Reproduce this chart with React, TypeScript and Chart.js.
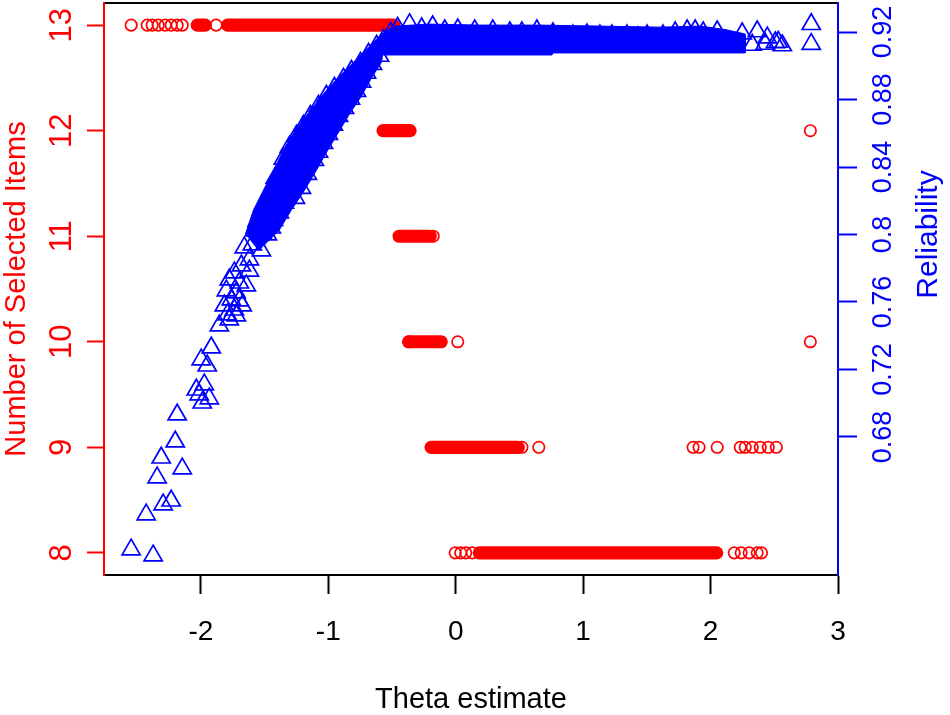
import { useEffect, useRef } from "react";
import { Chart, registerables } from "chart.js";

// Register Chart.js components
Chart.register(...registerables);

const FONT = "'Liberation Sans', Arial, Helvetica, sans-serif";
const RED = "#ff0000";
const BLUE = "#0000ff";

Chart.defaults.font.family = FONT;

// axis limits (data range widened by 4% each side, as R does)
const thetaRange = [-2.76, 3.0];
const itemsRange = [7.79, 13.21];
const relRange = [0.5982, 0.9372];

const thetaTicks = [-2, -1, 0, 1, 2, 3];
const itemTicks = [8, 9, 10, 11, 12, 13];
const relTicks = [0.68, 0.72, 0.76, 0.8, 0.84, 0.88, 0.92];
const relTickLabels = ["0.68", "0.72", "0.76", "0.8", "0.84", "0.88", "0.92"];

// Number of selected items: isolated circles (theta values per item count)
const items13 = [-2.547, -2.421, -2.382, -2.335, -2.28, -2.233, -2.186, -2.146, -1.88];
const items12 = [2.783];
const items11 = [-0.177];
const items10 = [-0.37, 0.016, 2.783];
const items9 = [0.52, 0.652, 1.863, 1.91, 2.052, 2.233, 2.272, 2.327, 2.39, 2.453, 2.516];
const items8 = [-0.004, 0.039, 0.079, 0.13, 2.186, 2.24, 2.303, 2.366, 2.4];

// runs of circles so dense they merge: [items, theta from, theta to]
const itemRuns: [number, number, number][] = [
  [13, -2.028, -1.965],
  [13, -1.79, -0.487],
  [12, -0.57, -0.358],
  [11, -0.444, -0.2],
  [10, -0.366, -0.114],
  [9, -0.193, 0.491],
  [8, 0.185, 2.048],
];

// Reliability triangles: [theta, reliability]
const relTail = [
  [-2.547, 0.6132], [-2.374, 0.6097], [-2.429, 0.634], [-2.296, 0.6399],
  [-2.233, 0.6422], [-2.343, 0.6559], [-2.146, 0.6612], [-2.311, 0.6677],
  [-2.201, 0.6772], [-2.186, 0.6932], [-1.973, 0.711], [-2.036, 0.708],
  [-2.013, 0.7051], [-1.989, 0.7003], [-1.934, 0.7027], [-1.918, 0.7329],
  [-1.997, 0.7258], [-1.95, 0.7222], [-1.855, 0.746],
];

const relRise = [
  [-1.596, 0.794], [-1.525, 0.7904], [-1.659, 0.7922], [-1.619, 0.7851],
  [-1.682, 0.7815], [-1.619, 0.7785], [-1.737, 0.7774], [-1.777, 0.7732],
  [-1.698, 0.7714], [-1.643, 0.7697], [-1.8, 0.7667], [-1.722, 0.7655],
  [-1.761, 0.7614], [-1.698, 0.7608], [-1.816, 0.7578], [-1.737, 0.7554],
  [-1.675, 0.7578], [-1.792, 0.7525], [-1.722, 0.7519], [-1.777, 0.7495],
  [-1.502, 0.8159], [-1.384, 0.8129], [-1.557, 0.8082], [-1.447, 0.804],
  [-1.344, 0.8188], [-1.478, 0.7999], [-1.58, 0.8023], [-1.43, 0.8085],
  [-1.4, 0.8165], [-1.52, 0.801],
];

const relUpperEdge = [
  [-1.471, 0.8228], [-1.416, 0.8335], [-1.353, 0.8448], [-1.305, 0.8519],
  [-1.25, 0.8584], [-1.195, 0.8643], [-1.14, 0.8702], [-1.077, 0.8762],
  [-1.015, 0.8821], [-0.952, 0.8868], [-0.881, 0.8922], [-0.818, 0.8969],
  [-0.747, 0.9016], [-0.684, 0.907], [-0.621, 0.9117], [-0.566, 0.9153],
  [-0.511, 0.9194], [-0.456, 0.9224],
];

const relLowerEdge = [
  [-0.598, 0.9058], [-0.653, 0.901], [-0.7, 0.8957], [-0.739, 0.8904],
  [-0.779, 0.885], [-0.826, 0.8803], [-0.873, 0.8749], [-0.92, 0.8702],
  [-0.96, 0.8649], [-0.999, 0.8595], [-1.038, 0.8542], [-1.077, 0.8489],
  [-1.109, 0.8441], [-1.164, 0.8358], [-1.211, 0.8275], [-1.258, 0.8216],
];

const relPlateau = [
  [-0.362, 0.9245], [-0.267, 0.9221], [-0.181, 0.9233], [-0.086, 0.9209],
  [0.016, 0.9215], [0.149, 0.9209], [0.291, 0.9209], [0.425, 0.9197],
  [0.519, 0.9197], [0.637, 0.9209], [0.763, 0.9191], [0.92, 0.9179],
  [1.03, 0.9185], [1.132, 0.9179], [1.226, 0.9179], [1.344, 0.9179],
  [1.431, 0.9168], [1.502, 0.9179], [1.627, 0.9179], [1.722, 0.9197],
  [1.816, 0.9209], [1.879, 0.9209], [1.942, 0.9197], [2.052, 0.9203],
  [2.13, 0.9138], [2.248, 0.9191], [2.366, 0.9203], [2.445, 0.9167],
  [2.508, 0.9138], [2.563, 0.912], [2.327, 0.9123], [2.429, 0.9129],
  [2.531, 0.9141], [2.193, 0.9123], [2.091, 0.9117], [2.79, 0.9246],
  [2.79, 0.9128],
];

// outline of the solid mass where the triangles overlap completely
const relCore = [
  [-1.65, 0.8003], [-1.587, 0.8145], [-1.508, 0.8264], [-1.429, 0.8382],
  [-1.335, 0.8525], [-1.256, 0.8619], [-1.162, 0.8714], [-1.052, 0.8821],
  [-0.926, 0.8928], [-0.8, 0.9022], [-0.69, 0.9105], [-0.58, 0.9188],
  [-0.48, 0.9235], [-0.204, 0.9247], [0.189, 0.9241], [0.66, 0.9241],
  [1.132, 0.9235], [1.604, 0.9229], [1.918, 0.9235], [2.115, 0.9215],
  [2.272, 0.9188], [2.272, 0.9076], [0.755, 0.9076], [0.755, 0.9064],
  [-0.574, 0.9064], [-0.582, 0.9022], [-0.661, 0.8927], [-0.739, 0.8821],
  [-0.834, 0.8714], [-0.928, 0.8595], [-1.022, 0.8477], [-1.101, 0.837],
  [-1.195, 0.8252], [-1.29, 0.8145], [-1.384, 0.8027], [-1.478, 0.7955],
  [-1.55, 0.7905],
];

const toXY = (pts: number[][]) => pts.map(([x, y]) => ({ x, y }));

const triangles = (pts: number[][]) => ({
  type: "scatter",
  data: toXY(pts),
  yAxisID: "yRel",
  pointStyle: "triangle",
  pointRadius: 10.5,
  pointHoverRadius: 10.5,
  pointBorderWidth: 1.7,
  pointBorderColor: BLUE,
  pointBackgroundColor: "rgba(0,0,0,0)",
  order: 0,
});

const circles = (level: number, thetas: number[]) => ({
  type: "scatter",
  data: thetas.map((x) => ({ x, y: level })),
  yAxisID: "y",
  pointStyle: "circle",
  pointRadius: 5.7,
  pointHoverRadius: 5.7,
  pointBorderWidth: 1.7,
  pointBorderColor: RED,
  pointBackgroundColor: "rgba(0,0,0,0)",
  order: 1,
});

const run = ([level, from, to]: [number, number, number]) => ({
  type: "line",
  data: [
    { x: from, y: level },
    { x: to, y: level },
  ],
  yAxisID: "y",
  borderColor: RED,
  borderWidth: 13.2,
  borderCapStyle: "round",
  pointRadius: 0,
  fill: false,
  order: 1,
});

// "Reliability" reads bottom-to-top like R's mtext on side 4
const reliabilityTitle = {
  id: "reliabilityTitle",
  afterDraw(chart: any) {
    const scale = chart.scales.yRel;
    const ctx = chart.ctx;
    const mid = (relTicks[0] + relTicks[relTicks.length - 1]) / 2;
    ctx.save();
    ctx.translate(scale.right - 21, scale.getPixelForValue(mid));
    ctx.rotate(-Math.PI / 2);
    ctx.fillStyle = BLUE;
    ctx.font = `30px ${FONT}`;
    ctx.textAlign = "center";
    ctx.textBaseline = "middle";
    ctx.fillText("Reliability", 0, 0);
    ctx.restore();
  },
};

const setTicks = (values: number[]) => (scale: any) => {
  scale.ticks = values.map((value) => ({ value }));
};

const App = () => {
  const canvasRef = useRef<HTMLCanvasElement>(null);

  useEffect(() => {
    document.body.style.margin = "0";
    if (!canvasRef.current) return;

    const chart = new Chart(canvasRef.current, {
      type: "scatter",
      data: {
        datasets: [
          {
            type: "line",
            data: toXY(relCore),
            yAxisID: "yRel",
            borderColor: BLUE,
            borderWidth: 1,
            backgroundColor: BLUE,
            fill: "shape",
            pointRadius: 0,
            order: 0,
          },
          triangles(relTail),
          triangles(relRise),
          triangles(relUpperEdge),
          triangles(relLowerEdge),
          triangles(relPlateau),
          ...itemRuns.map(run),
          circles(13, items13),
          circles(12, items12),
          circles(11, items11),
          circles(10, items10),
          circles(9, items9),
          circles(8, items8),
        ] as any,
      },
      options: {
        animation: false,
        responsive: true,
        maintainAspectRatio: false,
        events: [],
        layout: { padding: { top: 3, left: 0, right: 0, bottom: 0 }, autoPadding: false },
        plugins: {
          legend: { display: false },
          tooltip: { enabled: false },
        },
        scales: {
          x: {
            type: "linear",
            position: "bottom",
            min: thetaRange[0],
            max: thetaRange[1],
            afterBuildTicks: setTicks(thetaTicks),
            ticks: {
              color: "#000",
              font: { size: 28 },
              padding: 21,
              maxRotation: 0,
              autoSkip: false,
            },
            grid: {
              drawOnChartArea: false,
              drawTicks: true,
              tickLength: 19,
              tickColor: "#000",
              tickWidth: 2,
            },
            border: { color: "#000", width: 2 },
            title: {
              display: true,
              text: "Theta estimate",
              color: "#000",
              font: { size: 29, lineHeight: 1 },
              padding: { top: 0, bottom: 0.5 },
            },
            afterFit: (s: any) => {
              s.height = 140;
              s.paddingLeft = 0;
              s.paddingRight = 0;
            },
          },
          xTop: {
            type: "linear",
            position: "top",
            min: thetaRange[0],
            max: thetaRange[1],
            ticks: { display: false },
            grid: { drawOnChartArea: false, drawTicks: false },
            border: { color: "#000", width: 2 },
            afterFit: (s: any) => {
              s.height = 0;
              s.paddingLeft = 0;
              s.paddingRight = 0;
            },
          },
          y: {
            type: "linear",
            position: "left",
            min: itemsRange[0],
            max: itemsRange[1],
            afterBuildTicks: setTicks(itemTicks),
            ticks: {
              color: RED,
              font: { size: 31 },
              minRotation: 90,
              maxRotation: 90,
              crossAlign: "center",
              padding: 7.7,
              autoSkip: false,
            },
            grid: {
              drawOnChartArea: false,
              tickLength: 17,
              tickColor: RED,
              tickWidth: 2,
            },
            border: { color: RED, width: 2 },
            title: {
              display: true,
              text: "Number of Selected Items",
              color: RED,
              font: { size: 29, lineHeight: 1 },
              padding: { top: 2.5, bottom: 0 },
            },
            afterFit: (s: any) => {
              s.width = 104;
              s.paddingTop = 0;
              s.paddingBottom = 0;
            },
          },
          yRel: {
            type: "linear",
            position: "right",
            min: relRange[0],
            max: relRange[1],
            afterBuildTicks: setTicks(relTicks),
            ticks: {
              color: BLUE,
              font: { size: 27 },
              minRotation: 90,
              maxRotation: 90,
              crossAlign: "center",
              padding: 0,
              autoSkip: false,
              callback: (_v: any, i: number) => relTickLabels[i],
            },
            grid: {
              drawOnChartArea: false,
              tickLength: 19,
              tickColor: BLUE,
              tickWidth: 2,
            },
            border: { color: BLUE, width: 2 },
            afterFit: (s: any) => {
              s.width = 112;
              s.paddingTop = 0;
              s.paddingBottom = 0;
            },
          },
        },
      } as any,
      plugins: [reliabilityTitle],
    });

    return () => {
      chart.destroy();
    };
  }, []);

  return (
    <div style={{ width: 950, height: 715, position: "relative" }}>
      <canvas ref={canvasRef} />
    </div>
  );
};

export default App;
